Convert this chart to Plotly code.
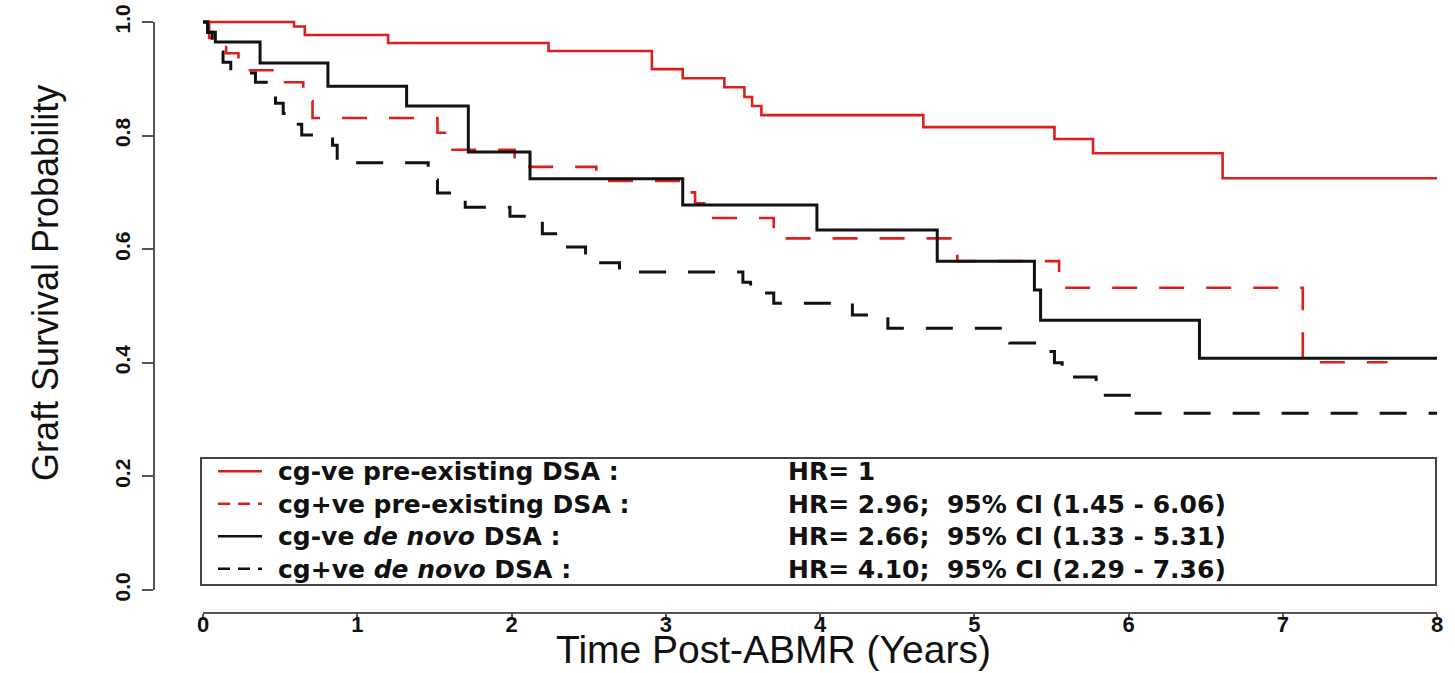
import plotly.graph_objects as go

# ---------------- data ----------------
t_pre_neg = [0, 0.59, 0.66, 1.20, 2.24, 2.91, 3.11, 3.38, 3.51, 3.56, 3.62, 4.67, 5.52, 5.77, 6.61, 8.0]
s_pre_neg = [1.0, 0.992, 0.977, 0.963, 0.949, 0.917, 0.901, 0.885, 0.868, 0.852, 0.836, 0.815, 0.794, 0.769, 0.725, 0.725]

t_pre_pos = [0, 0.04, 0.10, 0.15, 0.23, 0.47, 0.65, 0.71, 1.52, 1.59, 2.02, 2.55, 3.14, 3.19, 3.25, 3.70, 4.89, 5.55, 7.13, 7.68]
s_pre_pos = [1.0, 0.972, 0.958, 0.945, 0.915, 0.894, 0.861, 0.831, 0.805, 0.775, 0.745, 0.720, 0.700, 0.681, 0.655, 0.619, 0.579, 0.532, 0.401, 0.401]

t_dn_neg = [0, 0.03, 0.08, 0.37, 0.81, 1.32, 1.72, 2.12, 3.11, 3.98, 4.76, 5.39, 5.43, 6.46, 8.0]
s_dn_neg = [1.0, 0.982, 0.965, 0.928, 0.887, 0.852, 0.771, 0.724, 0.678, 0.634, 0.579, 0.528, 0.475, 0.408, 0.408]

t_dn_pos = [0, 0.03, 0.06, 0.10, 0.13, 0.18, 0.34, 0.41, 0.47, 0.52, 0.58, 0.64, 0.84, 0.87,
            1.46, 1.52, 1.64, 1.70, 1.99, 2.20, 2.35, 2.48, 2.70, 3.50, 3.55, 3.70, 4.21, 4.44,
            5.23, 5.48, 5.52, 5.57, 5.79, 6.03, 8.0]
s_dn_pos = [1.0, 0.982, 0.965, 0.947, 0.929, 0.910, 0.894, 0.875, 0.857, 0.839, 0.820, 0.801, 0.783, 0.752,
            0.722, 0.699, 0.687, 0.674, 0.658, 0.627, 0.604, 0.576, 0.560, 0.542, 0.523, 0.505, 0.484, 0.461,
            0.435, 0.420, 0.400, 0.375, 0.343, 0.311, 0.311]

series_labels = ["cg-ve pre-existing DSA :",
                 "cg+ve pre-existing DSA :",
                 "cg-ve <i>de novo</i> DSA :",
                 "cg+ve <i>de novo</i> DSA :"]
hr_labels = ["HR= 1",
             "HR= 2.96;\u00a0\u00a095% CI (1.45 - 6.06)",
             "HR= 2.66;\u00a0\u00a095% CI (1.33 - 5.31)",
             "HR= 4.10;\u00a0\u00a095% CI (2.29 - 7.36)"]
x_ticks = [0, 1, 2, 3, 4, 5, 6, 7, 8]
y_ticks = [0.0, 0.2, 0.4, 0.6, 0.8, 1.0]
x_title = "Time Post-ABMR (Years)"
y_title = "Graft Survival Probability"

# ---------------- styles ----------------
RED = "#dc1e1e"
BLACK = "#111111"
AX = "#555555"
colors = [RED, RED, BLACK, BLACK]
dashes = ["solid", "25px,22px", "solid", "27px,22px"]
widths = [2.6, 2.6, 3, 3]
series = [(t_pre_neg, s_pre_neg), (t_pre_pos, s_pre_pos), (t_dn_neg, s_dn_neg), (t_dn_pos, s_dn_pos)]

W, H = 1455, 673
ML, MR, MT, MB = 154, 0, 0, 60
PW, PH = W - ML - MR, H - MT - MB


def px(x):
    return (x - ML) / PW


def py(y):
    return (H - MB - y) / PH


fig = go.Figure()
for (t, s), c, d, w, name in zip(series, colors, dashes, widths, series_labels):
    fig.add_trace(go.Scatter(x=t, y=s, mode="lines", name=name, showlegend=False,
                             line=dict(shape="hv", color=c, width=w, dash=d)))

shapes = [
    # axis lines spanning the tick range (R style)
    dict(type="line", xref="x", yref="paper", x0=x_ticks[0], x1=x_ticks[-1], y0=0, y1=0,
         line=dict(color=AX, width=2)),
    dict(type="line", xref="paper", yref="y", x0=0, x1=0, y0=y_ticks[0], y1=y_ticks[-1],
         line=dict(color=AX, width=2)),
    # legend box
    dict(type="rect", xref="paper", yref="paper", x0=px(201), x1=px(1436), y0=py(585), y1=py(458),
         line=dict(color="#444444", width=2), fillcolor="rgba(0,0,0,0)"),
]

LEG_FS = 25
line_h = 1.3 * LEG_FS
block_c = 520
row_y = [block_c + (i - 1.5) * line_h for i in range(4)]
for i in range(4):
    yy = py(row_y[i])
    shapes.append(dict(type="line", xref="paper", yref="paper", x0=px(218), x1=px(262), y0=yy, y1=yy,
                       line=dict(color=colors[i], width=2.5,
                                 dash="solid" if dashes[i] == "solid" else "12px,8px")))

leg_font = dict(family="DejaVu Sans", size=LEG_FS, color="#111111", weight="bold")
annotations = [
    dict(xref="paper", yref="paper", x=px(276), y=py(block_c), text="<br>".join(series_labels),
         showarrow=False, xanchor="left", yanchor="middle", align="left", font=leg_font),
    dict(xref="paper", yref="paper", x=px(786), y=py(block_c), text="<br>".join(hr_labels),
         showarrow=False, xanchor="left", yanchor="middle", align="left", font=leg_font),
    dict(xref="paper", yref="paper", x=px(773), y=py(673), text=x_title, showarrow=False,
         xanchor="center", yanchor="bottom",
         font=dict(family="Liberation Sans", size=39, color="#111111")),
    dict(xref="paper", yref="paper", x=px(45), y=py(283), text=y_title, showarrow=False,
         xanchor="center", yanchor="middle", textangle=-90,
         font=dict(family="Liberation Sans", size=36, color="#111111")),
]

x0 = -(203 - ML) / 154.25
x1 = x0 + PW / 154.25
ytop = 1 + (22 - MT) / 568
ybot = ytop - PH / 568

fig.update_layout(
    width=W, height=H,
    margin=dict(l=ML, r=MR, t=MT, b=MB),
    paper_bgcolor="white", plot_bgcolor="white",
    shapes=shapes, annotations=annotations,
    xaxis=dict(range=[x0, x1], tickvals=x_ticks, ticktext=[str(v) for v in x_ticks],
               showgrid=False, zeroline=False, showline=False,
               ticks="outside", ticklen=6, tickwidth=2, tickcolor=AX, ticklabelstandoff=-14,
               tickfont=dict(family="Liberation Sans", size=22, color="#111111", weight="bold")),
    yaxis=dict(range=[ybot, ytop], tickvals=y_ticks, ticktext=[f"{v:.1f}" for v in y_ticks],
               showgrid=False, zeroline=False, showline=False,
               ticks="outside", ticklen=11, tickwidth=2, tickcolor=AX, tickangle=-90,
               ticklabelstandoff=4,
               tickfont=dict(family="Liberation Sans", size=21, color="#111111", weight="bold")),
)

fig.write_html("out.html")
